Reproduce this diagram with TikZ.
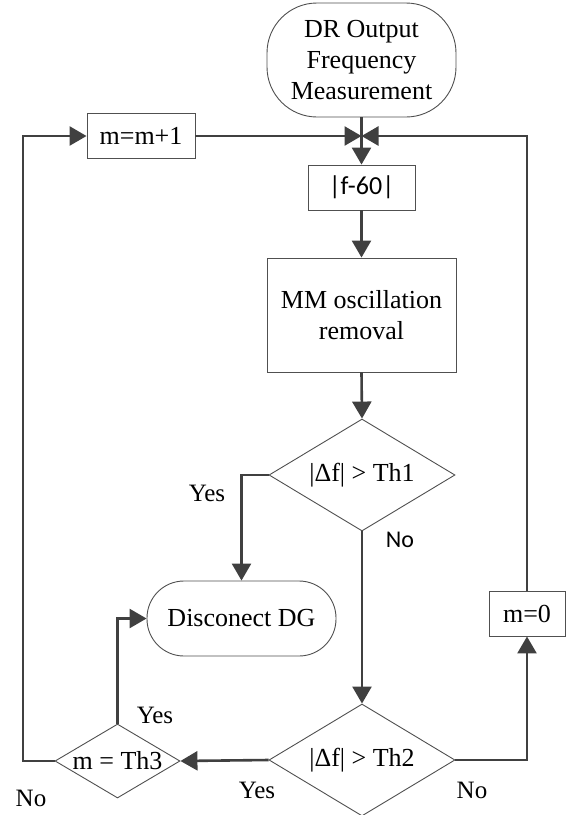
\documentclass[tikz,border=0pt]{standalone}
\usepackage{fontspec}
\setmainfont{Liberation Serif}
\newfontfamily\calib{Carlito}
\usetikzlibrary{shapes.geometric,arrows.meta}
\definecolor{linec}{HTML}{404040}
\definecolor{edgec}{HTML}{505050}
\tikzset{
  base/.style={draw=edgec,line width=0.9pt,fill=white,inner sep=0pt,align=center,font=\fontsize{26}{31}\selectfont},
  boxn/.style={base,rectangle},
  roundn/.style={base,rectangle,rounded corners=#1},
  diam/.style={base,diamond},
  dtext/.style={font=\fontsize{26}{31}\selectfont,inner sep=0pt},
  conn/.style={draw=linec,line width=2.6pt,-{Triangle[length=17pt,width=19pt]}},
  lbl/.style={font=\fontsize{25}{30}\selectfont,inner sep=0pt},
  lbls/.style={font=\calib\fontsize{24}{28}\selectfont,inner sep=0pt}
}
\begin{document}
\begin{tikzpicture}[x=1pt,y=-1pt]
\useasboundingbox (0,0) rectangle (577,815);
% nodes
\node[roundn=50,minimum width=189,minimum height=114] (top) at (361.5,60) {DR Output\\Frequency\\Measurement};
\node[boxn,minimum width=107,minimum height=45,font=\calib\fontsize{26}{31}\selectfont] (f60) at (361.5,187.5) {|f-60|};
\node[boxn,minimum width=189,minimum height=114] (mm) at (361.5,315) {MM oscillation\\removal};
\node[diam,minimum width=186,minimum height=112,label={[dtext]center:|Δf| > Th1}] (d1) at (362,475) {};
\node[roundn=37,minimum width=189,minimum height=75] (dg) at (241.5,618.5) {Disconect DG};
\node[diam,minimum width=186,minimum height=112,label={[dtext]center:|Δf| > Th2}] (d2) at (362,760) {};
\node[diam,minimum width=125,minimum height=74,label={[dtext]center:m = Th3}] (d3) at (117.5,761) {};
\node[boxn,minimum width=76,minimum height=45] (m0) at (527,613.5) {m=0};
\node[boxn,minimum width=108,minimum height=45] (mp1) at (141,136) {m=m+1};
\coordinate (J) at (361.5,136);
\coordinate (cL) at (23,136);
% connectors
\draw[conn] (top.south) -- (f60.north);
\draw[conn] (f60.south) -- (mm.north);
\draw[conn] (mm.south) -- (d1.north);
\draw[conn] (d1.west) -| (dg.north);
\draw[conn] (d1.south) -- (d2.north);
\draw[conn] (d2.west) -- (d3.east);
\draw[conn] (d2.east) -| (m0.south);
\draw[conn] (m0.north) |- (J);
\draw[conn] (mp1.east) -- (J);
\draw[conn] (d3.north) |- (dg.west);
\draw[conn] (d3.west) -| (cL) -- (mp1.west);
% labels
\node[lbl] (y1) at (207,493) {Yes};
\node[lbls] (n1) at (400,540) {No};
\node[lbl] (y3) at (155,715) {Yes};
\node[lbl] (n3) at (31,798) {No};
\node[lbl] (y2) at (257,790) {Yes};
\node[lbl] (n2) at (472,790) {No};
\end{tikzpicture}
\end{document}
